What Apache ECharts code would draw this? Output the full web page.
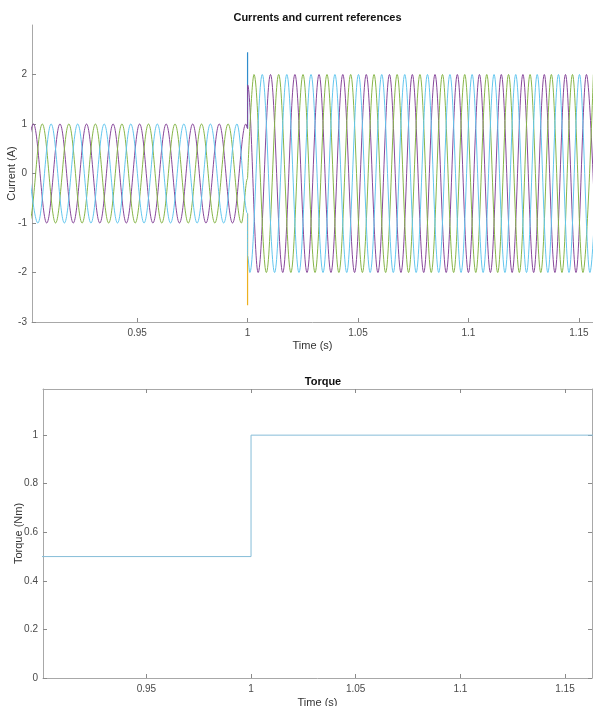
<!DOCTYPE html>
<html>
<head>
<meta charset="utf-8">
<script src="https://cdn.jsdelivr.net/npm/echarts@6/dist/echarts.min.js"></script>
<style>
html,body{margin:0;padding:0;background:#fff;}
#c{width:593px;height:706px;}
</style>
</head>
<body>
<div id="c"></div>
<script>
// ---------- data ----------
const stepTime = 1.0;
const ampBefore = 1;
const ampAfter = 2;

// extremum times (alternating sign) of each phase current before the step
const purpleBeforeT = [0.89704, 0.90305, 0.90906, 0.91507, 0.92108, 0.92709, 0.93310, 0.93911, 0.94512, 0.95113, 0.95714, 0.96314, 0.96915, 0.97516, 0.98117, 0.98718, 0.99319, 0.99920];
const purpleBeforeSign = -1;
const greenBeforeT = [0.89504, 0.90105, 0.90706, 0.91307, 0.91908, 0.92509, 0.93110, 0.93711, 0.94312, 0.94913, 0.95514, 0.96115, 0.96715, 0.97316, 0.97917, 0.98518, 0.99119, 0.99720];
const greenBeforeSign = 1;
const cyanBeforeT = [0.89904, 0.90505, 0.91106, 0.91707, 0.92308, 0.92909, 0.93510, 0.94111, 0.94712, 0.95313, 0.95914, 0.96514, 0.97115, 0.97716, 0.98317, 0.98918, 0.99519];
const cyanBeforeSign = 1;

// values just before / just after the step
const purpleJump = [0.91, 1.79];
const greenJump = [-0.10, -0.11];
const cyanJump = [-0.81, -1.66];

// extremum times (alternating sign) after the step
const purpleAfterT = [1.00479, 1.01038, 1.01593, 1.02144, 1.02692, 1.03236, 1.03776, 1.04312, 1.04845, 1.05375, 1.05902, 1.06425, 1.06945, 1.07461, 1.07975, 1.08486, 1.08993, 1.09498, 1.10000, 1.10499, 1.10995, 1.11489, 1.11979, 1.12467, 1.12953, 1.13436, 1.13916, 1.14394, 1.14870, 1.15343, 1.15813];
const purpleAfterSign = -1;
const greenAfterT = [1.00292, 1.00852, 1.01409, 1.01961, 1.02510, 1.03055, 1.03596, 1.04134, 1.04668, 1.05199, 1.05726, 1.06251, 1.06772, 1.07290, 1.07804, 1.08316, 1.08825, 1.09330, 1.09833, 1.10333, 1.10830, 1.11325, 1.11816, 1.12305, 1.12791, 1.13275, 1.13756, 1.14235, 1.14711, 1.15185, 1.15657];
const greenAfterSign = 1;
const cyanAfterT = [1.00104, 1.00666, 1.01224, 1.01777, 1.02327, 1.02873, 1.03416, 1.03955, 1.04490, 1.05022, 1.05551, 1.06076, 1.06598, 1.07117, 1.07633, 1.08146, 1.08655, 1.09162, 1.09666, 1.10167, 1.10665, 1.11160, 1.11653, 1.12142, 1.12630, 1.13114, 1.13596, 1.14076, 1.14553, 1.15028, 1.15500, 1.15970];
const cyanAfterSign = -1;

// reference-current spikes visible at the step
const refBlueSpike = [0.91, 2.45];
const refYellowSpike = [-0.81, -2.66];

// torque
const torqueT = [0.90, 1.0, 1.0, 1.17];
const torqueV = [0.5, 0.5, 1.0, 1.0];

// ticks
const timeTicks = [0.95, 1, 1.05, 1.1, 1.15];
const currentTicks = [-3, -2, -1, 0, 1, 2];
const torqueTicks = [0, 0.2, 0.4, 0.6, 0.8, 1];

// ---------- build ----------
function phaseData(bT, bS, jump, aT, aS) {
  const pts = [];
  bT.forEach((t, i) => pts.push([t, ampBefore * bS * (i % 2 === 0 ? 1 : -1)]));
  pts.push([stepTime, jump[0]]);
  pts.push([stepTime, jump[1]]);
  aT.forEach((t, i) => pts.push([t, ampAfter * aS * (i % 2 === 0 ? 1 : -1)]));
  return pts;
}
const purpleData = phaseData(purpleBeforeT, purpleBeforeSign, purpleJump, purpleAfterT, purpleAfterSign);
const greenData = phaseData(greenBeforeT, greenBeforeSign, greenJump, greenAfterT, greenAfterSign);
const cyanData = phaseData(cyanBeforeT, cyanBeforeSign, cyanJump, cyanAfterT, cyanAfterSign);

const FONT = "'Liberation Sans', Arial, Helvetica, sans-serif";
const axisCol = '#a8a8a8';
const tickCol = '#8a8a8a';
const labelCol = '#4a4a4a';

function wave(name, data, color, z) {
  return {
    name, type: 'line', xAxisIndex: 0, yAxisIndex: 0, data,
    smooth: 0.36, smoothMonotone: 'x', showSymbol: false, symbol: 'none',
    lineStyle: { color, width: 1 }, z, animation: false, clip: true
  };
}
function axLine() { return { show: true, onZero: false, lineStyle: { color: axisCol, width: 1 } }; }
function ticks(vals) { return { show: true, inside: true, length: 4, customValues: vals, lineStyle: { color: tickCol } }; }

const chart = echarts.init(document.getElementById('c'), null, { renderer: 'canvas' });
chart.setOption({
  animation: false,
  backgroundColor: '#ffffff',
  textStyle: { fontFamily: FONT },
  title: [
    { text: 'Currents and current references', left: 312.5, top: 7, textAlign: 'center',
      textStyle: { fontSize: 11, fontWeight: 'bold', color: '#111', fontFamily: FONT } },
    { text: 'Torque', left: 318, top: 371, textAlign: 'center',
      textStyle: { fontSize: 11, fontWeight: 'bold', color: '#111', fontFamily: FONT } }
  ],
  grid: [
    { left: 32, top: 25, width: 561, height: 297, containLabel: false, outerBoundsMode: 'none' },
    { left: 43, top: 389, width: 549, height: 289, containLabel: false, outerBoundsMode: 'none' }
  ],
  xAxis: [
    { type: 'value', gridIndex: 0, min: 0.9024, max: 1.1564,
      name: 'Time (s)', nameLocation: 'middle', nameGap: 18, nameMoveOverlap: false,
      nameTextStyle: { fontSize: 11, color: '#333', fontFamily: FONT },
      axisLine: axLine(), axisTick: ticks(timeTicks),
      axisLabel: { customValues: timeTicks, fontSize: 10, color: labelCol, margin: 6, fontFamily: FONT },
      splitLine: { show: false } },
    { type: 'value', gridIndex: 1, min: 0.9006, max: 1.1629,
      name: 'Time (s)', nameLocation: 'middle', nameGap: 19, nameMoveOverlap: false,
      nameTextStyle: { fontSize: 11, color: '#333', fontFamily: FONT },
      axisLine: axLine(), axisTick: ticks(timeTicks),
      axisLabel: { customValues: timeTicks, fontSize: 10, color: labelCol, margin: 6, fontFamily: FONT },
      splitLine: { show: false } },
    { type: 'value', gridIndex: 1, position: 'top', min: 0.9006, max: 1.1629,
      axisLine: axLine(), axisTick: ticks(timeTicks),
      axisLabel: { show: false }, splitLine: { show: false } }
  ],
  yAxis: [
    { type: 'value', gridIndex: 0, min: -3, max: 3,
      name: 'Current (A)', nameLocation: 'middle', nameGap: 15, nameMoveOverlap: false,
      nameTextStyle: { fontSize: 11, color: '#333', fontFamily: FONT },
      axisLine: axLine(), axisTick: ticks(currentTicks),
      axisLabel: { customValues: currentTicks, fontSize: 10, color: labelCol, margin: 5, fontFamily: FONT },
      splitLine: { show: false } },
    { type: 'value', gridIndex: 1, min: 0, max: 1.19,
      name: 'Torque (Nm)', nameLocation: 'middle', nameGap: 19, nameMoveOverlap: false,
      nameTextStyle: { fontSize: 11, color: '#333', fontFamily: FONT },
      axisLine: axLine(), axisTick: ticks(torqueTicks),
      axisLabel: { customValues: torqueTicks, fontSize: 10, color: labelCol, margin: 5, fontFamily: FONT },
      splitLine: { show: false } },
    { type: 'value', gridIndex: 1, position: 'right', min: 0, max: 1.19,
      axisLine: axLine(), axisTick: ticks(torqueTicks),
      axisLabel: { show: false }, splitLine: { show: false } }
  ],
  series: [
    { name: 'ref a', type: 'line', xAxisIndex: 0, yAxisIndex: 0,
      data: [[stepTime, refBlueSpike[0]], [stepTime, refBlueSpike[1]]],
      showSymbol: false, symbol: 'none', lineStyle: { color: '#2f8ccc', width: 1.2 }, z: 1 },
    { name: 'ref c', type: 'line', xAxisIndex: 0, yAxisIndex: 0,
      data: [[stepTime, refYellowSpike[0]], [stepTime, refYellowSpike[1]]],
      showSymbol: false, symbol: 'none', lineStyle: { color: '#EDB120', width: 1.2 }, z: 1 },
    wave('ia', purpleData, '#87479a', 2),
    wave('ib', greenData, '#86b548', 3),
    wave('ic', cyanData, '#62c6ee', 4),
    { name: 'Torque', type: 'line', xAxisIndex: 1, yAxisIndex: 1,
      data: torqueT.map((t, i) => [t, torqueV[i]]),
      showSymbol: false, symbol: 'none', lineStyle: { color: '#86bdd8', width: 1 }, clip: true }
  ]
});
</script>
</body>
</html>
